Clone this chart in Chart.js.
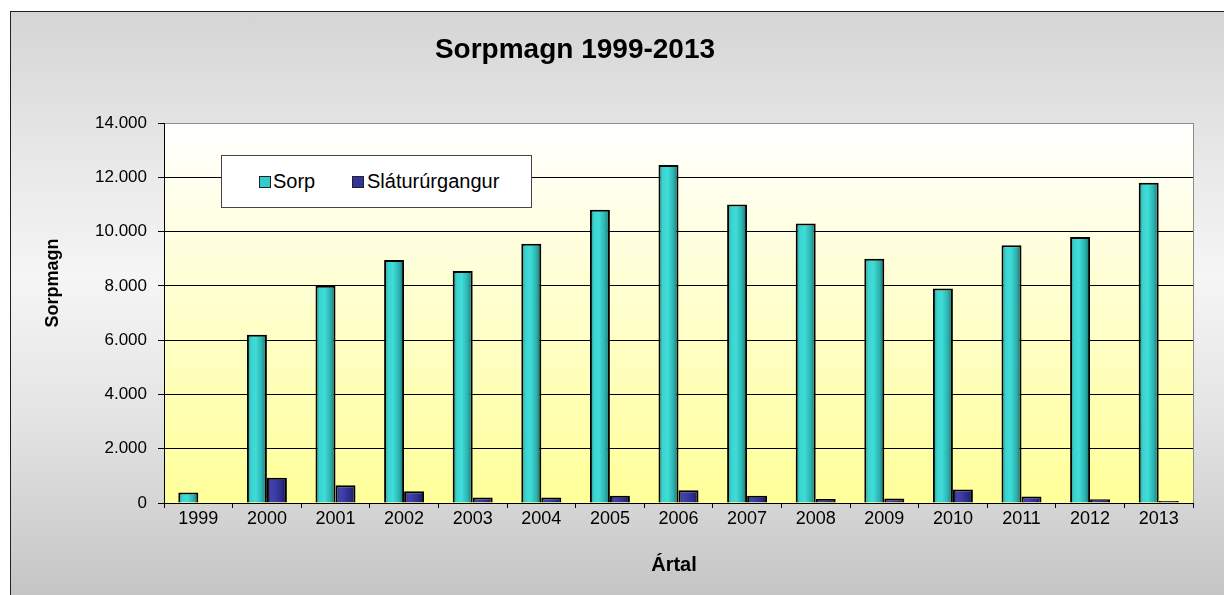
<!DOCTYPE html>
<html>
<head>
<meta charset="utf-8">
<title>Sorpmagn 1999-2013</title>
<script src="https://cdn.jsdelivr.net/npm/chart.js@4.4.1/dist/chart.umd.min.js"></script>
<style>
    html, body { margin: 0; padding: 0; background: #fff; }
    body { width: 1224px; height: 595px; position: relative; overflow: hidden; font-family: Arial, "Liberation Sans", sans-serif; }
    #frame {
        position: absolute; left: 10px; top: 11px; right: -5px; bottom: -5px;
        border-left: 1px solid #222; border-top: 1px solid #222;
        background: linear-gradient(to bottom, #d5d5d5 0%, #e8e8e8 25%, #f5f5f5 45%, #e3e3e3 70%, #c4c4c4 100%);
    }
    #chart { position: absolute; left: 0; top: 0; }
    #legend {
        position: absolute; left: 221px; top: 155px; width: 311px; height: 53px;
        box-sizing: border-box; background: #fff; border: 1px solid #444;
    }
    #legend .sw { position: absolute; top: 20px; width: 10px; height: 10px; border: 1px solid #222; }
    #legend .lb { position: absolute; top: 15px; font-size: 20px; line-height: 20px; color: #000; white-space: nowrap; }
</style>
</head>
<body>
<div id="frame"></div>
<canvas id="chart" width="1224" height="595"></canvas>
<div id="legend"></div>
<script>
// Data
const years = ['1999', '2000', '2001', '2002', '2003', '2004', '2005', '2006',
               '2007', '2008', '2009', '2010', '2011', '2012', '2013'];
const sorp = [390, 6200, 8000, 8950, 8550, 9550, 10800, 12450, 11000, 10300, 9000, 7900, 9500, 9800, 11800];
const slatur = [null, 930, 650, 430, 200, 200, 270, 470, 270, 150, 170, 500, 240, 140, 70];
const yMax = 14000;
const yStep = 2000;

const CAT_PCT = 0.583;
const tealStops = ['#1c8683', '#3ad4d0', '#3fdcd8', '#2bb3b0', '#166966'];
const navyStops = ['#1e1e66', '#4343ad', '#3a3aa2', '#2a2a86', '#16164c'];

function fmt(v) {
    return String(v).replace(/\B(?=(\d{3})+(?!\d))/g, '.');
}

// cylinder-like shading, built from the x scale of the chart
function barFill(stops) {
    return function (c) {
        const chart = c.chart;
        const x = chart.scales && chart.scales.x;
        if (!chart.chartArea || !x) return stops[2];
        const bw = x.width / years.length * CAT_PCT / 2;
        const left = x.getPixelForValue(c.dataIndex) - bw + c.datasetIndex * bw;
        const g = chart.ctx.createLinearGradient(left, 0, left + bw, 0);
        g.addColorStop(0, stops[0]);
        g.addColorStop(0.2, stops[1]);
        g.addColorStop(0.45, stops[2]);
        g.addColorStop(0.75, stops[3]);
        g.addColorStop(1, stops[4]);
        return g;
    };
}

const plotDecor = {
    id: 'plotDecor',
    beforeDraw(chart) {
        const { ctx, chartArea: a } = chart;
        const g = ctx.createLinearGradient(0, a.top, 0, a.bottom);
        g.addColorStop(0, '#ffffff');
        g.addColorStop(1, '#ffff99');
        ctx.save();
        ctx.fillStyle = g;
        ctx.fillRect(a.left, a.top, a.right - a.left, a.bottom - a.top);
        ctx.restore();
    },
    afterDraw(chart) {
        const { ctx, chartArea: a } = chart;
        ctx.save();
        // right border of plot
        ctx.strokeStyle = '#8c8c8c';
        ctx.lineWidth = 1;
        ctx.beginPath();
        ctx.moveTo(Math.round(a.right) + 0.5, a.top);
        ctx.lineTo(Math.round(a.right) + 0.5, a.bottom);
        ctx.stroke();

        ctx.fillStyle = '#000';
        ctx.textBaseline = 'alphabetic';
        ctx.textAlign = 'center';
        // main title
        ctx.font = 'bold 28px Arial, "Liberation Sans", sans-serif';
        ctx.fillText('Sorpmagn 1999-2013', 575, 58);
        // x title
        ctx.font = 'bold 20px Arial, "Liberation Sans", sans-serif';
        ctx.fillText('Ártal', 674, 571);
        // y title
        ctx.font = 'bold 18px Arial, "Liberation Sans", sans-serif';
        ctx.translate(58, 283);
        ctx.rotate(-Math.PI / 2);
        ctx.fillText('Sorpmagn', 0, 0);
        ctx.restore();
    }
};

const chart = new Chart(document.getElementById('chart').getContext('2d'), {
    type: 'bar',
    data: {
        labels: years,
        datasets: [{
            label: 'Sorp',
            data: sorp,
            backgroundColor: barFill(tealStops),
            borderColor: '#000',
            borderWidth: 2
        }, {
            label: 'Sláturúrgangur',
            data: slatur,
            backgroundColor: barFill(navyStops),
            borderColor: '#000',
            borderWidth: 2
        }]
    },
    options: {
        responsive: false,
        animation: false,
        categoryPercentage: CAT_PCT,
        barPercentage: 1,
        layout: { padding: { left: 44, top: 123, right: 31, bottom: 52 } },
        font: { family: 'Arial, "Liberation Sans", sans-serif' },
        plugins: {
            legend: { display: false },
            title: { display: false },
            tooltip: { enabled: false }
        },
        scales: {
            x: {
                grid: { drawOnChartArea: false, tickLength: 5, tickColor: '#000', offset: true },
                border: { color: '#000', width: 1 },
                ticks: {
                    color: '#000', padding: 2, maxRotation: 0, autoSkip: false,
                    font: { family: 'Arial, "Liberation Sans", sans-serif', size: 18, lineHeight: 1 }
                },
                afterFit(s) { s.height = 40; }
            },
            y: {
                min: 0,
                max: yMax,
                grid: {
                    color: c => (c.tick && c.tick.value === yMax) ? '#8c8c8c' : '#000',
                    tickColor: '#000',
                    tickLength: 6
                },
                border: { color: '#000', width: 1 },
                ticks: {
                    stepSize: yStep, color: '#000', padding: 11,
                    font: { family: 'Arial, "Liberation Sans", sans-serif', size: 17 },
                    callback: v => fmt(v)
                },
                afterFit(s) { s.width = 120; }
            }
        }
    },
    plugins: [plotDecor]
});

// legend box inside the plot, built from the datasets
const legendEl = document.getElementById('legend');
const swatchColors = ['#33cccc', '#333399'];
const swatchLeft = [37, 130];
const labelLeft = [51, 145];
chart.data.datasets.forEach((ds, i) => {
    const sw = document.createElement('span');
    sw.className = 'sw';
    sw.style.left = swatchLeft[i] + 'px';
    sw.style.background = swatchColors[i];
    legendEl.appendChild(sw);
    const lb = document.createElement('span');
    lb.className = 'lb';
    lb.style.left = labelLeft[i] + 'px';
    lb.textContent = ds.label;
    legendEl.appendChild(lb);
});
</script>
</body>
</html>
